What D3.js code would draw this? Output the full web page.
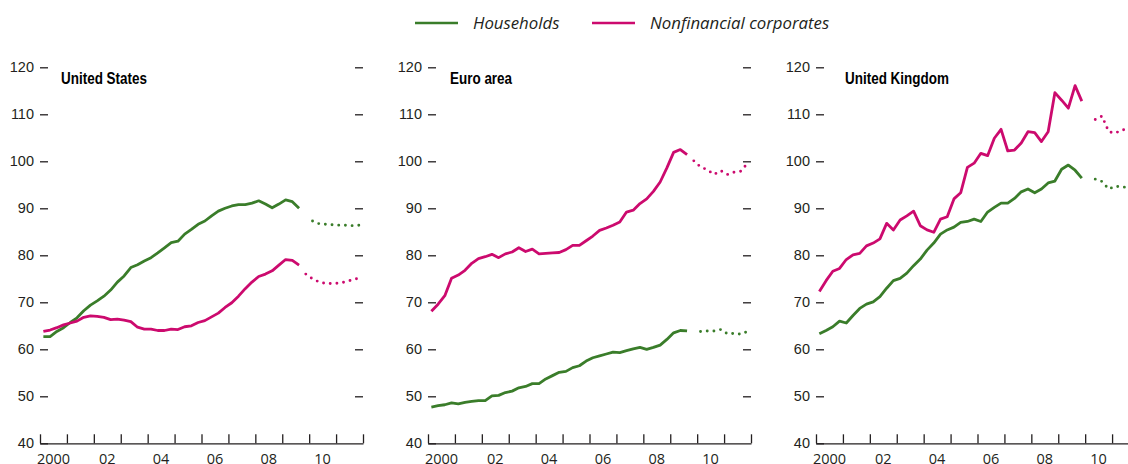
<!DOCTYPE html>
<meta charset="utf-8">
<style>
  body { margin: 0; background: #fff; }
  svg { display: block; font-family: "Open Sans", "Noto Sans", sans-serif; }
  .axis text { font-size: 14.5px; fill: #231f20; }
  .axis line, .axis path { stroke: #231f20; stroke-width: 1.3; }
  .title { font-family: "Liberation Sans", Arial, sans-serif; font-weight: bold; font-size: 17px; fill: #000; }
  .legend text { font-size: 16.8px; font-style: italic; fill: #231f20; }
</style>
<svg width="1128" height="464"></svg>
<script src="https://d3js.org/d3.v7.min.js"></script>
<script>

// quarterly data, solid from 2000Q1, projections dotted
var years = d3.range(2000, 2013),
    yearLabels = ["2000", "02", "04", "06", "08", "10"],
    yTicks = [40, 50, 60, 70, 80, 90, 100, 110, 120];

var usHouseholds = [62.7, 62.7, 63.8, 64.6, 65.7, 66.7, 68.2, 69.4, 70.3, 71.3,
  72.6, 74.3, 75.6, 77.4, 78.0, 78.8, 79.5, 80.5, 81.6, 82.7,
  83.0, 84.5, 85.5, 86.6, 87.3, 88.4, 89.4, 90.0, 90.5, 90.8,
  90.8, 91.1, 91.6, 90.9, 90.1, 90.9, 91.8, 91.4, 90.0];
var usCorporates = [63.8, 64.1, 64.6, 65.2, 65.6, 66.0, 66.8, 67.1, 67.0, 66.8,
  66.3, 66.4, 66.2, 65.9, 64.7, 64.3, 64.3, 64.0, 64.0, 64.3,
  64.2, 64.8, 65.0, 65.7, 66.1, 66.9, 67.7, 68.9, 69.9, 71.3,
  72.9, 74.3, 75.5, 76.0, 76.7, 77.9, 79.1, 78.9, 77.9];
var usHouseholdsProj = [87.3, 86.7, 86.6, 86.5, 86.4, 86.4, 86.3, 86.4];
var usCorporatesProj = [76.0, 75.0, 74.3, 74.0, 74.0, 74.1, 74.4, 74.8, 75.2];

var euroHouseholds = [47.7, 48.0, 48.2, 48.6, 48.4, 48.7, 48.9, 49.1, 49.1, 50.1,
  50.2, 50.8, 51.1, 51.8, 52.1, 52.7, 52.7, 53.7, 54.4, 55.1,
  55.3, 56.1, 56.5, 57.5, 58.2, 58.6, 59.0, 59.4, 59.3, 59.7,
  60.1, 60.4, 60.0, 60.4, 60.9, 62.1, 63.5, 64.0, 63.9];
var euroCorporates = [68.1, 69.6, 71.4, 75.1, 75.8, 76.8, 78.3, 79.3, 79.7, 80.2,
  79.5, 80.3, 80.7, 81.6, 80.8, 81.3, 80.3, 80.4, 80.5, 80.6,
  81.2, 82.1, 82.1, 83.1, 84.1, 85.3, 85.8, 86.4, 87.1, 89.2,
  89.6, 91.0, 92.0, 93.6, 95.6, 98.6, 101.9, 102.5, 101.4];
var euroHouseholdsProj = [63.8, 63.9, 63.9, 64.2, 63.3, 63.4, 63.2, 63.8];
var euroCorporatesProj = [100.1, 98.8, 98.2, 97.2, 98.0, 97.2, 97.7, 97.9, 99.6];

var ukHouseholds = [63.3, 64.0, 64.8, 66.0, 65.6, 67.2, 68.7, 69.6, 70.1, 71.2,
  73.0, 74.6, 75.1, 76.2, 77.8, 79.2, 81.1, 82.6, 84.5, 85.4,
  86.0, 87.0, 87.2, 87.7, 87.2, 89.2, 90.2, 91.1, 91.1, 92.1,
  93.5, 94.1, 93.3, 94.1, 95.4, 95.8, 98.3, 99.2, 98.1, 96.4];
var ukCorporates = [72.3, 74.6, 76.6, 77.2, 79.1, 80.1, 80.4, 82.0, 82.6, 83.5,
  86.8, 85.4, 87.5, 88.4, 89.4, 86.3, 85.4, 84.9, 87.7, 88.2,
  92.0, 93.3, 98.7, 99.6, 101.7, 101.2, 104.9, 106.8, 102.2, 102.4,
  103.9, 106.3, 106.1, 104.2, 106.3, 114.6, 113.0, 111.3, 116.1, 112.8];
var ukHouseholdsProj = [96.2, 95.7, 94.1, 94.7, 94.5, 94.5, 94.5];
var ukCorporatesProj = [108.9, 109.6, 106.3, 106.0, 106.7, 106.8, 107.2];

var green = "#3a7d2a", pink = "#cc0a6e";

// quarter label -> fractional year, placed mid-quarter
function qtime(label) {
  return +label.slice(0, 4) + (+label.slice(5) - 0.5) / 4;
}
function series(values, start) {
  var t0 = qtime(start);
  return values.map(function(v, i) { return {t: t0 + i * 0.25, v: v}; });
}

var panels = [
  {title: "United States", left: 40, titleX: 21,
   lines: [[usHouseholds, "2000Q1", green], [usCorporates, "2000Q1", pink]],
   proj: [[usHouseholdsProj, "2010Q1", green], [usCorporatesProj, "2009Q4", pink]]},
  {title: "Euro area", left: 428, titleX: 22,
   lines: [[euroHouseholds, "2000Q1", green], [euroCorporates, "2000Q1", pink]],
   proj: [[euroHouseholdsProj, "2010Q1", green], [euroCorporatesProj, "2009Q4", pink]]},
  {title: "United Kingdom", left: 816, titleX: 29,
   lines: [[ukHouseholds, "2000Q1", green], [ukCorporates, "2000Q1", pink]],
   proj: [[ukHouseholdsProj, "2010Q2", green], [ukCorporatesProj, "2010Q2", pink]]}
];

var svg = d3.select("svg"),
    width = 323,
    titleScale = null;

var y = d3.scaleLinear().domain([40, 120]).range([443.3, 67.3]);

panels.forEach(function(p) {
  var x = d3.scaleLinear().domain([2000, 2012]).range([0, width]);
  var g = svg.append("g").attr("transform", "translate(" + p.left + ",0)");

  g.append("g")
      .attr("class", "axis")
      .attr("transform", "translate(0," + y(40) + ")")
      .call(d3.axisBottom(x).tickValues(years).tickSize(-9).tickSizeOuter(0).tickFormat(""));

  g.append("g")
      .attr("class", "axis")
      .selectAll("text")
      .data(yearLabels)
      .enter().append("text")
      .attr("x", function(d, i) { return x(2000 + i * 2 + 0.5); })
      .attr("y", y(40) + 20.5)
      .attr("text-anchor", "middle")
      .text(function(d) { return d; });

  g.append("g")
      .attr("class", "axis")
      .call(d3.axisLeft(y).tickValues(yTicks).tickSize(-8).tickPadding(6))
      .call(function(a) { a.select(".domain").remove(); });

  g.append("g")
      .attr("class", "axis")
      .attr("transform", "translate(" + width + ",0)")
      .call(d3.axisRight(y).tickValues(yTicks.slice(1)).tickSize(-8).tickFormat(""))
      .call(function(a) { a.select(".domain").remove(); });

  // bold condensed look: squeeze the bold face horizontally
  var t = g.append("text")
      .attr("class", "title")
      .text(p.title);
  if (titleScale === null) titleScale = 86 / t.node().getComputedTextLength();
  t.attr("transform", "translate(" + p.titleX + ",84) scale(" + titleScale + ",1)");

  var line = d3.line()
      .x(function(d) { return x(d.t); })
      .y(function(d) { return y(d.v); });

  p.lines.forEach(function(s) {
    g.append("path")
        .datum(series(s[0], s[1]))
        .attr("fill", "none")
        .attr("stroke", s[2])
        .attr("stroke-width", 2.8)
        .attr("stroke-linejoin", "round")
        .attr("d", line);
  });

  p.proj.forEach(function(s) {
    g.append("path")
        .datum(series(s[0], s[1]))
        .attr("fill", "none")
        .attr("stroke", s[2])
        .attr("stroke-width", 2.9)
        .attr("stroke-linecap", "round")
        .attr("stroke-dasharray", "0 6.7")
        .attr("d", line);
  });
});

// legend
var legend = svg.append("g").attr("class", "legend");
var legendItems = [["Households", green, 415], ["Nonfinancial corporates", pink, 592]];
legendItems.forEach(function(d) {
  legend.append("line")
      .attr("x1", d[2]).attr("x2", d[2] + 43)
      .attr("y1", 23).attr("y2", 23)
      .attr("stroke", d[1])
      .attr("stroke-width", 2.7);
  legend.append("text")
      .attr("x", d[2] + 58)
      .attr("y", 29)
      .text(d[0]);
});

</script>
